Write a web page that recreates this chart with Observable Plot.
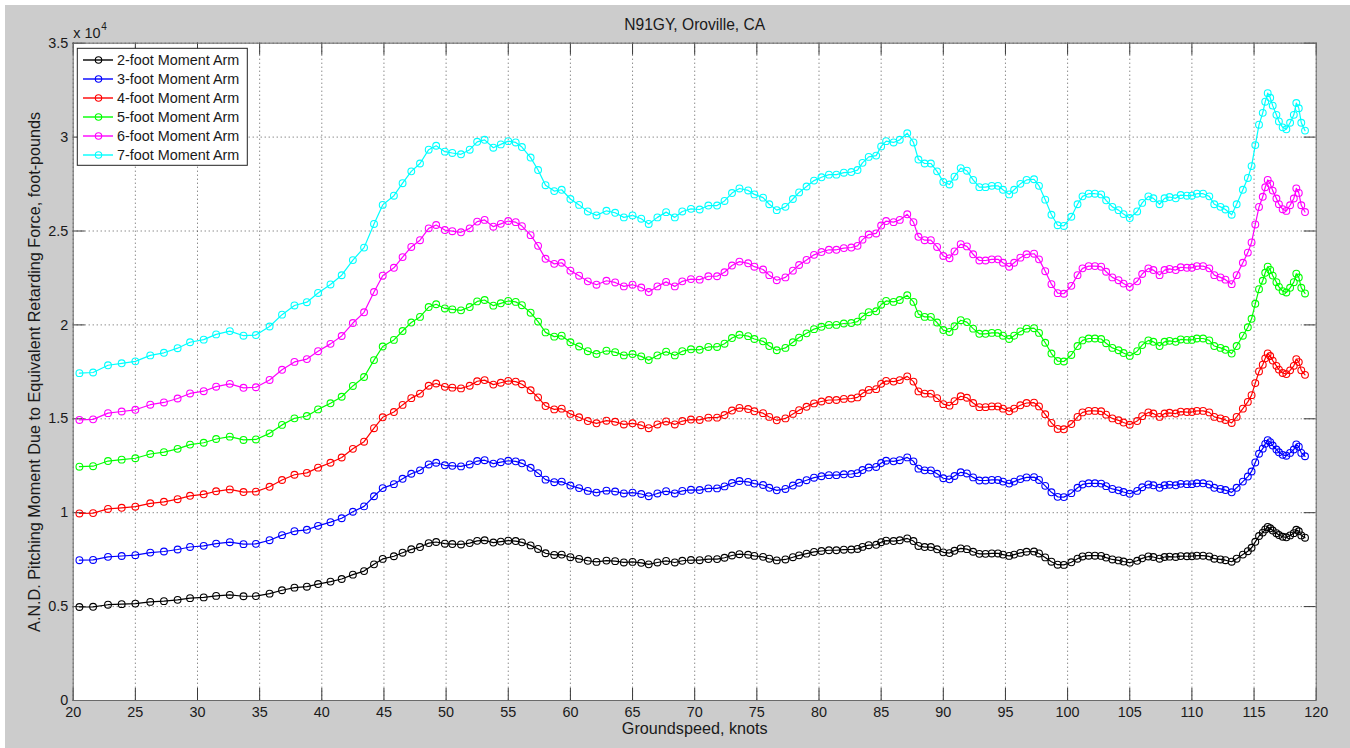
<!DOCTYPE html>
<html><head><meta charset="utf-8">
<script src="https://cdn.jsdelivr.net/npm/d3@7"></script>
<script src="https://cdn.jsdelivr.net/npm/@observablehq/plot@0.6"></script>
<style>
html,body{margin:0;padding:0;background:#ffffff;}
#chart{position:absolute;left:5px;top:5px;}
</style></head><body><div id="chart"></div>
<script>
// Groundspeed, knots (marker positions)
const speed = [20.5,21.6,22.8,23.9,25.0,26.2,27.3,28.4,29.4,30.5,
31.5,32.6,33.7,34.7,35.8,36.8,37.8,38.8,39.7,40.7,
41.6,42.5,43.4,44.2,44.9,45.8,46.5,47.2,47.9,48.6,
49.2,49.9,50.5,51.2,51.9,52.5,53.1,53.8,54.4,55.0,
55.6,56.1,56.8,57.4,58.0,58.7,59.3,60.0,60.7,61.4,
62.1,62.9,63.6,64.3,65.0,65.7,66.3,67.0,67.7,68.4,
69.0,69.7,70.4,71.1,71.8,72.4,73.0,73.6,74.3,74.8,
75.5,76.0,76.6,77.3,77.9,78.4,79.0,79.6,80.2,80.8,
81.4,82.0,82.6,83.1,83.5,84.0,84.6,85.0,85.4,86.0,
86.5,87.1,87.6,88.0,88.5,89.0,89.5,90.0,90.5,90.9,
91.4,91.9,92.4,92.9,93.4,93.9,94.4,94.8,95.3,95.7,
96.2,96.7,97.3,97.7,98.2,98.7,99.2,99.7,100.3,100.8,
101.2,101.7,102.2,102.7,103.1,103.6,104.1,104.5,105.0,105.6,
106.0,106.5,106.9,107.4,107.8,108.2,108.7,109.1,109.6,110.0,
110.4,110.9,111.4,111.8,112.3,112.7,113.2,113.6,114.1,114.5,
114.8,115.1,115.4,115.7,115.9,116.1,116.3,116.5,116.8,117.0,
117.3,117.6,117.9,118.2,118.4,118.6,118.8,119.1];

// Pitching moment, foot-pounds, one array per moment arm
const arm2ft = [4980,4990,5100,5130,5160,5250,5290,5360,5450,5490,
5570,5620,5550,5560,5690,5870,6010,6060,6200,6330,
6470,6700,6890,7250,7540,7680,7870,8050,8170,8380,
8440,8350,8330,8310,8380,8500,8530,8410,8460,8510,
8490,8420,8260,8070,7840,7750,7770,7630,7540,7440,
7380,7450,7420,7350,7380,7330,7250,7350,7430,7350,
7440,7480,7470,7530,7530,7600,7720,7790,7760,7700,
7650,7550,7460,7510,7630,7730,7820,7910,7960,8000,
8000,8030,8040,8070,8180,8270,8290,8430,8510,8490,
8530,8630,8490,8230,8170,8170,8050,7890,7850,7970,
8100,8060,7920,7810,7810,7830,7830,7770,7700,7770,
7860,7920,7930,7830,7620,7390,7230,7220,7360,7550,
7670,7710,7710,7700,7610,7510,7460,7400,7340,7440,
7570,7670,7640,7550,7640,7660,7640,7690,7680,7680,
7710,7710,7670,7550,7510,7470,7390,7550,7770,7950,
8130,8450,8760,8940,9110,9240,9170,9050,8910,8810,
8720,8690,8790,8910,9090,9010,8790,8670];

const arm3ft = [7470,7485,7650,7695,7740,7875,7935,8040,8175,8235,
8355,8430,8325,8340,8535,8805,9015,9090,9300,9495,
9705,10050,10335,10875,11310,11520,11805,12075,12255,12570,
12660,12525,12495,12465,12570,12750,12795,12615,12690,12765,
12735,12630,12390,12105,11760,11625,11655,11445,11310,11160,
11070,11175,11130,11025,11070,10995,10875,11025,11145,11025,
11160,11220,11205,11295,11295,11400,11580,11685,11640,11550,
11475,11325,11190,11265,11445,11595,11730,11865,11940,12000,
12000,12045,12060,12105,12270,12405,12435,12645,12765,12735,
12795,12945,12735,12345,12255,12255,12075,11835,11775,11955,
12150,12090,11880,11715,11715,11745,11745,11655,11550,11655,
11790,11880,11895,11745,11430,11085,10845,10830,11040,11325,
11505,11565,11565,11550,11415,11265,11190,11100,11010,11160,
11355,11505,11460,11325,11460,11490,11460,11535,11520,11520,
11565,11565,11505,11325,11265,11205,11085,11325,11655,11925,
12195,12675,13140,13410,13665,13860,13755,13575,13365,13215,
13080,13035,13185,13365,13635,13515,13185,13005];

const arm4ft = [9960,9980,10200,10260,10320,10500,10580,10720,10900,10980,
11140,11240,11100,11120,11380,11740,12020,12120,12400,12660,
12940,13400,13780,14500,15080,15360,15740,16100,16340,16760,
16880,16700,16660,16620,16760,17000,17060,16820,16920,17020,
16980,16840,16520,16140,15680,15500,15540,15260,15080,14880,
14760,14900,14840,14700,14760,14660,14500,14700,14860,14700,
14880,14960,14940,15060,15060,15200,15440,15580,15520,15400,
15300,15100,14920,15020,15260,15460,15640,15820,15920,16000,
16000,16060,16080,16140,16360,16540,16580,16860,17020,16980,
17060,17260,16980,16460,16340,16340,16100,15780,15700,15940,
16200,16120,15840,15620,15620,15660,15660,15540,15400,15540,
15720,15840,15860,15660,15240,14780,14460,14440,14720,15100,
15340,15420,15420,15400,15220,15020,14920,14800,14680,14880,
15140,15340,15280,15100,15280,15320,15280,15380,15360,15360,
15420,15420,15340,15100,15020,14940,14780,15100,15540,15900,
16260,16900,17520,17880,18220,18480,18340,18100,17820,17620,
17440,17380,17580,17820,18180,18020,17580,17340];

const arm5ft = [12450,12475,12750,12825,12900,13125,13225,13400,13625,13725,
13925,14050,13875,13900,14225,14675,15025,15150,15500,15825,
16175,16750,17225,18125,18850,19200,19675,20125,20425,20950,
21100,20875,20825,20775,20950,21250,21325,21025,21150,21275,
21225,21050,20650,20175,19600,19375,19425,19075,18850,18600,
18450,18625,18550,18375,18450,18325,18125,18375,18575,18375,
18600,18700,18675,18825,18825,19000,19300,19475,19400,19250,
19125,18875,18650,18775,19075,19325,19550,19775,19900,20000,
20000,20075,20100,20175,20450,20675,20725,21075,21275,21225,
21325,21575,21225,20575,20425,20425,20125,19725,19625,19925,
20250,20150,19800,19525,19525,19575,19575,19425,19250,19425,
19650,19800,19825,19575,19050,18475,18075,18050,18400,18875,
19175,19275,19275,19250,19025,18775,18650,18500,18350,18600,
18925,19175,19100,18875,19100,19150,19100,19225,19200,19200,
19275,19275,19175,18875,18775,18675,18475,18875,19425,19875,
20325,21125,21900,22350,22775,23100,22925,22625,22275,22025,
21800,21725,21975,22275,22725,22525,21975,21675];

const arm6ft = [14940,14970,15300,15390,15480,15750,15870,16080,16350,16470,
16710,16860,16650,16680,17070,17610,18030,18180,18600,18990,
19410,20100,20670,21750,22620,23040,23610,24150,24510,25140,
25320,25050,24990,24930,25140,25500,25590,25230,25380,25530,
25470,25260,24780,24210,23520,23250,23310,22890,22620,22320,
22140,22350,22260,22050,22140,21990,21750,22050,22290,22050,
22320,22440,22410,22590,22590,22800,23160,23370,23280,23100,
22950,22650,22380,22530,22890,23190,23460,23730,23880,24000,
24000,24090,24120,24210,24540,24810,24870,25290,25530,25470,
25590,25890,25470,24690,24510,24510,24150,23670,23550,23910,
24300,24180,23760,23430,23430,23490,23490,23310,23100,23310,
23580,23760,23790,23490,22860,22170,21690,21660,22080,22650,
23010,23130,23130,23100,22830,22530,22380,22200,22020,22320,
22710,23010,22920,22650,22920,22980,22920,23070,23040,23040,
23130,23130,23010,22650,22530,22410,22170,22650,23310,23850,
24390,25350,26280,26820,27330,27720,27510,27150,26730,26430,
26160,26070,26370,26730,27270,27030,26370,26010];

const arm7ft = [17430,17465,17850,17955,18060,18375,18515,18760,19075,19215,
19495,19670,19425,19460,19915,20545,21035,21210,21700,22155,
22645,23450,24115,25375,26390,26880,27545,28175,28595,29330,
29540,29225,29155,29085,29330,29750,29855,29435,29610,29785,
29715,29470,28910,28245,27440,27125,27195,26705,26390,26040,
25830,26075,25970,25725,25830,25655,25375,25725,26005,25725,
26040,26180,26145,26355,26355,26600,27020,27265,27160,26950,
26775,26425,26110,26285,26705,27055,27370,27685,27860,28000,
28000,28105,28140,28245,28630,28945,29015,29505,29785,29715,
29855,30205,29715,28805,28595,28595,28175,27615,27475,27895,
28350,28210,27720,27335,27335,27405,27405,27195,26950,27195,
27510,27720,27755,27405,26670,25865,25305,25270,25760,26425,
26845,26985,26985,26950,26635,26285,26110,25900,25690,26040,
26495,26845,26740,26425,26740,26810,26740,26915,26880,26880,
26985,26985,26845,26425,26285,26145,25865,26425,27195,27825,
28455,29575,30660,31290,31885,32340,32095,31675,31185,30835,
30520,30415,30765,31185,31815,31535,30765,30345];

const seriesNames = ["2-foot Moment Arm","3-foot Moment Arm","4-foot Moment Arm","5-foot Moment Arm","6-foot Moment Arm","7-foot Moment Arm"];
const seriesColors = ["#000000","#0000ff","#ff0000","#00ff00","#ff00ff","#00ffff"];
const xTicks = [20,25,30,35,40,45,50,55,60,65,70,75,80,85,90,95,100,105,110,115,120];
const yTicks = [0,5000,10000,15000,20000,25000,30000,35000];
const yTickLabels = ["0","0.5","1","1.5","2","2.5","3","3.5"];

const seriesValues = [arm2ft, arm3ft, arm4ft, arm5ft, arm6ft, arm7ft];
const table = seriesValues.flatMap((vals, i) =>
  vals.map((v, j) => ({speed: speed[j], moment: v, series: seriesNames[i]})));

const W = 1345, H = 743;
const mL = 67.7, mR = 34.3, mT = 37.7, mB = 48;
const pw = W - mL - mR, ph = H - mT - mB;
const tickLen = 12;
const font = "'Liberation Sans', Arial, Helvetica, sans-serif";
const fs = 14.4;
const labelFs = 16.2;
const titleFs = 15.6;
const tickStroke = "#3a3a3a";

const chart = Plot.plot({
  width: W, height: H,
  marginLeft: mL, marginRight: mR, marginTop: mT, marginBottom: mB,
  style: {background: "#cccccc", fontFamily: font, fontSize: fs + "px", color: "#1a1a1a"},
  x: {domain: [20, 120]},
  y: {domain: [0, 35000]},
  color: {domain: seriesNames, range: seriesColors},
  marks: [
    Plot.frame({fill: "#ffffff"}),
    Plot.gridX(xTicks, {stroke: "#000", strokeOpacity: 0.65, strokeDasharray: "1,3"}),
    Plot.gridY(yTicks, {stroke: "#000", strokeOpacity: 0.65, strokeDasharray: "1,3"}),
    Plot.tickX(xTicks, {x: d => d, insetTop: ph - tickLen, stroke: tickStroke}),
    Plot.tickX(xTicks, {x: d => d, insetBottom: ph - tickLen, stroke: tickStroke}),
    Plot.tickY(yTicks, {y: d => d, insetRight: pw - tickLen, stroke: tickStroke}),
    Plot.tickY(yTicks, {y: d => d, insetLeft: pw - tickLen, stroke: tickStroke}),
    Plot.line(table, {x: "speed", y: "moment", z: "series", stroke: "series", strokeWidth: 1.2}),
    Plot.dot(table, {x: "speed", y: "moment", stroke: "series", r: 3.4, strokeWidth: 1.1, fill: "none"}),
    Plot.frame({stroke: "#6a6a6a"}),
    Plot.axisX({ticks: xTicks, tickSize: 0, tickPadding: 6, label: null, fontSize: fs, tickFormat: d => String(d)}),
    Plot.axisY({ticks: yTicks, tickSize: 0, tickPadding: 5, label: null, fontSize: fs,
      tickFormat: d => yTickLabels[yTicks.indexOf(d)]}),
    Plot.text(["N91GY, Oroville, CA"], {text: d => d, frameAnchor: "top", lineAnchor: "middle", dy: -18, fontSize: titleFs}),
    Plot.text(["Groundspeed, knots"], {text: d => d, frameAnchor: "bottom", lineAnchor: "middle", dy: 28, fontSize: labelFs}),
    Plot.text(["A.N.D. Pitching Moment Due to Equivalent Retarding Force, foot-pounds"],
      {text: d => d, frameAnchor: "left", textAnchor: "middle", lineAnchor: "middle", rotate: -90, dx: -38, fontSize: labelFs}),
    Plot.text(["x 10"], {text: d => d, frameAnchor: "top-left", textAnchor: "start", lineAnchor: "middle", dy: -10, fontSize: fs}),
    Plot.text(["4"], {text: d => d, frameAnchor: "top-left", textAnchor: "start", lineAnchor: "middle", dx: 28, dy: -16, fontSize: 10})
  ]
});

document.getElementById("chart").appendChild(chart);

// Legend inside the plot area (top-left)
const svg = d3.select(chart);
const g = svg.append("g").attr("font-family", font).attr("font-size", fs).attr("text-anchor", "start");
g.append("rect").attr("x", 72.3).attr("y", 43.3).attr("width", 170).attr("height", 117)
  .attr("fill", "#ffffff").attr("stroke", "#222").attr("stroke-width", 1);
seriesNames.forEach((name, i) => {
  const y = 55 + i * 19;
  g.append("line").attr("x1", 78).attr("x2", 108).attr("y1", y).attr("y2", y)
    .attr("stroke", seriesColors[i]).attr("stroke-width", 1.4);
  g.append("circle").attr("cx", 93.5).attr("cy", y).attr("r", 3.2)
    .attr("fill", "none").attr("stroke", seriesColors[i]).attr("stroke-width", 1.1);
  g.append("text").attr("x", 112).attr("y", y).attr("dy", "0.35em")
    .attr("text-anchor", "start").attr("fill", "#1a1a1a").text(name);
});
</script>
</body></html>
